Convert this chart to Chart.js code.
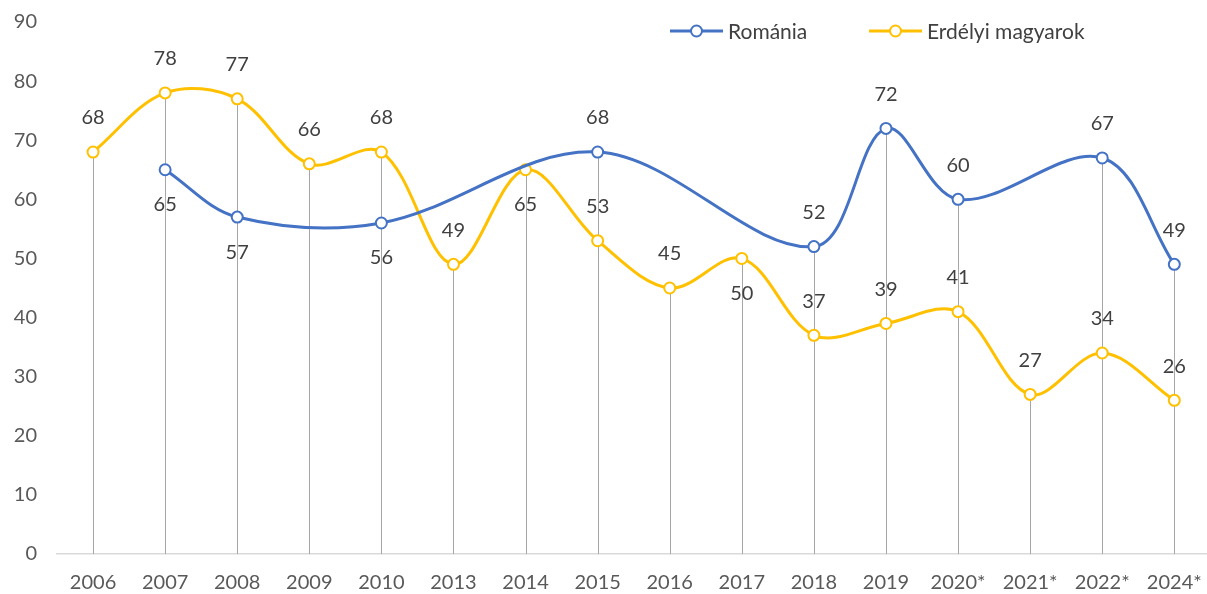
<!DOCTYPE html>
<html>
<head>
<meta charset="utf-8">
<script src="https://cdn.jsdelivr.net/npm/chart.js@4.4.1/dist/chart.umd.min.js"></script>
<style>
  html, body { margin: 0; padding: 0; background: #fff; overflow: hidden; }
  #wrap { width: 1219px; height: 594px; }
</style>
</head>
<body>
<div id="wrap"><canvas id="grafico" width="1219" height="594"></canvas></div>
<script>
// adatok
const categories = ['2006', '2007', '2008', '2009', '2010', '2013', '2014', '2015', '2016', '2017', '2018', '2019', '2020*', '2021*', '2022*', '2024*'];
const romania = [null, 65, 57, null, 56, null, null, 68, null, null, 52, 72, 60, null, 67, 49];
const erdelyi = [68, 78, 77, 66, 68, 49, 65, 53, 45, 50, 37, 39, 41, 27, 34, 26];
const yTicks = [0, 10, 20, 30, 40, 50, 60, 70, 80, 90];

// hol legyen a cimke: a pont folott vagy alatt
const romaniaLabelPos = ['', 'below', 'below', '', 'below', '', '', 'above', '', '', 'above', 'above', 'above', '', 'above', 'above'];
const erdelyiLabelPos = ['above', 'above', 'above', 'above', 'above', 'above', 'below', 'above', 'above', 'below', 'above', 'above', 'above', 'above', 'above', 'above'];

const FONT = 'Lato, "Open Sans", sans-serif';
const BLUE = '#4472C4';
const YELLOW = '#FFC000';

// fuggoleges vonalak a pontoktol a tengelyig
const dropLines = {
    id: 'dropLines',
    beforeDatasetsDraw(chart) {
        const ctx = chart.ctx;
        const x = chart.scales.x, y = chart.scales.y;
        ctx.save();
        ctx.strokeStyle = '#a6a6a6';
        ctx.lineWidth = 1;
        categories.forEach((c, i) => {
            const vals = [romania[i], erdelyi[i]].filter(v => v !== null);
            const top = Math.max(...vals);
            const px = Math.round(x.getPixelForValue(i)) + 0.5;
            ctx.beginPath();
            ctx.moveTo(px, y.getPixelForValue(top));
            ctx.lineTo(px, y.getPixelForValue(0));
            ctx.stroke();
        });
        ctx.restore();
    }
};

// ertek cimkek
const valueLabels = {
    id: 'valueLabels',
    afterDatasetsDraw(chart) {
        const ctx = chart.ctx;
        const positions = [romaniaLabelPos, erdelyiLabelPos];
        ctx.save();
        ctx.font = '20px ' + FONT;
        ctx.fillStyle = '#404040';
        ctx.textAlign = 'center';
        ctx.textBaseline = 'middle';
        chart.data.datasets.forEach((ds, di) => {
            const meta = chart.getDatasetMeta(di);
            meta.data.forEach((pt, i) => {
                const v = ds.data[i];
                if (v === null) return;
                const off = positions[di][i] === 'below' ? 35 : -34;
                ctx.fillText(String(v), pt.x, pt.y + off);
            });
        });
        ctx.restore();
    }
};

// jelmagyarazat
const customLegend = {
    id: 'customLegend',
    afterDraw(chart) {
        const ctx = chart.ctx;
        const items = [
            { text: 'Románia', color: BLUE, x: 670 },
            { text: 'Erdélyi magyarok', color: YELLOW, x: 869 }
        ];
        const ly = 31;
        ctx.save();
        items.forEach(it => {
            ctx.strokeStyle = it.color;
            ctx.lineWidth = 3;
            ctx.beginPath();
            ctx.moveTo(it.x, ly);
            ctx.lineTo(it.x + 53, ly);
            ctx.stroke();
            ctx.beginPath();
            ctx.arc(it.x + 26.5, ly, 5.5, 0, Math.PI * 2);
            ctx.fillStyle = '#fff';
            ctx.fill();
            ctx.lineWidth = 2;
            ctx.stroke();
            ctx.font = '21px ' + FONT;
            ctx.fillStyle = '#404040';
            ctx.textAlign = 'left';
            ctx.textBaseline = 'middle';
            ctx.fillText(it.text, it.x + 58, ly + 1);
        });
        ctx.restore();
    }
};

const ctx = document.getElementById('grafico').getContext('2d');
new Chart(ctx, {
    type: 'line',
    data: {
        labels: categories,
        datasets: [{
            label: 'Románia',
            data: romania,
            borderColor: BLUE,
            backgroundColor: '#fff',
            borderWidth: 3,
            pointRadius: 5.5,
            pointBorderWidth: 2,
            pointBorderColor: BLUE,
            pointBackgroundColor: '#fff',
            tension: 0.35,
            spanGaps: true
        }, {
            label: 'Erdélyi magyarok',
            data: erdelyi,
            borderColor: YELLOW,
            backgroundColor: '#fff',
            borderWidth: 3,
            pointRadius: 5.5,
            pointBorderWidth: 2,
            pointBorderColor: YELLOW,
            pointBackgroundColor: '#fff',
            tension: 0.35,
            spanGaps: true
        }]
    },
    options: {
        responsive: false,
        animation: false,
        layout: { padding: { top: 22, right: 0, bottom: 0, left: 0 } },
        plugins: {
            legend: { display: false },
            tooltip: { enabled: false }
        },
        scales: {
            x: {
                offset: true,
                grid: { display: false, drawTicks: false },
                border: { display: true, color: '#d9d9d9', width: 1.5 },
                ticks: { color: '#595959', font: { family: FONT, size: 20 }, padding: 17, maxRotation: 0, autoSkip: false },
                afterFit(scale) { scale.height = 40; }
            },
            y: {
                min: 0,
                max: 90,
                afterBuildTicks(scale) { scale.ticks = yTicks.map(v => ({ value: v })); },
                afterFit(scale) {
                    scale.width = 57;
                    scale.paddingTop = 0;
                    scale.paddingBottom = 0;
                },
                grid: { display: false, drawTicks: false },
                border: { display: false },
                ticks: { color: '#595959', font: { family: FONT, size: 20 }, padding: 20 }
            }
        }
    },
    plugins: [dropLines, valueLabels, customLegend]
});
</script>
</body>
</html>
